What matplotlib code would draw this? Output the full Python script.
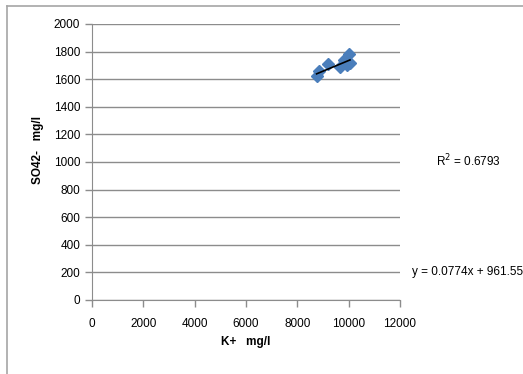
import numpy as np
import matplotlib.pyplot as plt
from matplotlib.lines import Line2D

# Datos
k_mgl = [8750, 8850, 9200, 9650, 9800, 10000, 10050, 9950]
so4_mgl = [1620, 1660, 1710, 1690, 1740, 1780, 1720, 1700]

pendiente = 0.0774
intercepto = 961.55
r2_texto = 'R$^2$ = 0.6793'
ecuacion_texto = 'y = 0.0774x + 961.55'

x_ticks = [0, 2000, 4000, 6000, 8000, 10000, 12000]
y_ticks = [0, 200, 400, 600, 800, 1000, 1200, 1400, 1600, 1800, 2000]

plt.rcParams['font.family'] = ['Liberation Sans', 'DejaVu Sans']

W, H = 523, 374
fig = plt.figure(figsize=(W / 100, H / 100), dpi=100)
ax = fig.add_axes([92 / W, 1 - 300 / H, 308 / W, 276 / H])

gris = '#8c8c8c'

ax.plot(k_mgl, so4_mgl, linestyle='none', marker='D', markersize=6.5,
        color='#4a7ebb', zorder=3)

# Línea de tendencia
x_linea = np.array([min(k_mgl), max(k_mgl)])
ax.plot(x_linea, pendiente * x_linea + intercepto, color='black', linewidth=1.2, zorder=4)

ax.set_xlim(0, 12000)
ax.set_ylim(0, 2000)
ax.set_xticks(x_ticks)
ax.set_yticks(y_ticks)
ax.grid(axis='y', color=gris, linewidth=1)
ax.set_axisbelow(True)

for lado in ['top', 'right']:
    ax.spines[lado].set_visible(False)
for lado in ['left', 'bottom']:
    ax.spines[lado].set_color(gris)
ax.tick_params(colors=gris, labelcolor='black', labelsize=8.5, length=5, width=1)
ax.tick_params(axis='x', pad=8)

fig.text(38 / W, 1 - 150 / H, 'SO42-   mg/l', rotation=90, ha='center', va='center',
         fontsize=8.5, fontweight='bold')
fig.text(246 / W, 1 - 342 / H, 'K+   mg/l', ha='center', va='center',
         fontsize=8.5, fontweight='bold')

fig.text(468 / W, 1 - 161 / H, r2_texto, ha='center', va='center', fontsize=8.5)
fig.text(468 / W, 1 - 272 / H, ecuacion_texto, ha='center', va='center', fontsize=8.5)

# Borde del gráfico (solo arriba e izquierda visibles)
fig.add_artist(Line2D([7 / W, 1], [1 - 6 / H, 1 - 6 / H], color='#a6a6a6', linewidth=1.2))
fig.add_artist(Line2D([7 / W, 7 / W], [0, 1 - 6 / H], color='#a6a6a6', linewidth=1.2))

fig.savefig('out.png', dpi=100)
